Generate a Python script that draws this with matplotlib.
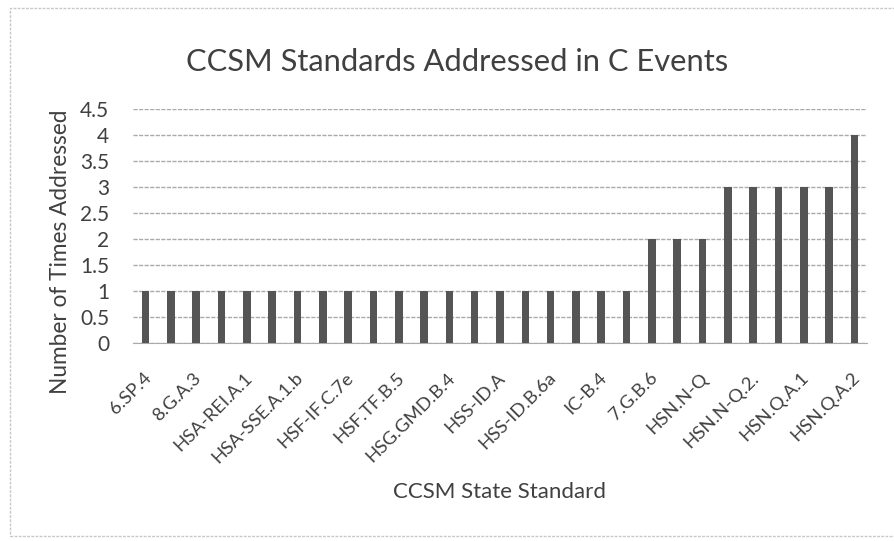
import matplotlib
matplotlib.use("Agg")
import matplotlib.pyplot as plt
from matplotlib.patches import Rectangle

# ---- data ----
values = [1, 1, 1, 1, 1, 1, 1, 1, 1, 1,
          1, 1, 1, 1, 1, 1, 1, 1, 1, 1,
          2, 2, 2,
          3, 3, 3, 3, 3,
          4]
tick_labels = ["6.SP.4", "8.G.A.3", "HSA-REI.A.1", "HSA-SSE.A.1.b", "HSF-IF.C.7e",
               "HSF.TF.B.5", "HSG.GMD.B.4", "HSS-ID.A", "HSS-ID.B.6a", "IC-B.4",
               "7.G.B.6", "HSN.N-Q", "HSN.N-Q.2.", "HSN.Q.A.1", "HSN.Q.A.2"]
y_ticks = [0, 0.5, 1, 1.5, 2, 2.5, 3, 3.5, 4, 4.5]
y_tick_labels = ["0", "0.5", "1", "1.5", "2", "2.5", "3", "3.5", "4", "4.5"]
title = "CCSM Standards Addressed in C Events"
xlabel = "CCSM State Standard"
ylabel = "Number of Times Addressed"

plt.rcParams['font.family'] = ['Lato', 'DejaVu Sans']
text_color = "#404040"

W, H = 895, 541
fig = plt.figure(figsize=(W / 100, H / 100), dpi=100)
fig.patch.set_facecolor("white")

# chart border (scanned box)
fig.add_artist(Rectangle((10 / W, 1 - 536 / H), 1.2, (536 - 8) / H,
                         transform=fig.transFigure, fill=False,
                         edgecolor="#c8c8c8", linewidth=1.0, linestyle=(0, (2, 1))))

ax = fig.add_axes([133 / W, 1 - 342.7 / H, (867 - 133) / W, (342.7 - 108.7) / H])
x = list(range(len(values)))
ax.bar(x, values, width=0.3, color="#555555", zorder=3)
ax.set_xlim(-0.5, len(values) - 0.5)
ax.set_ylim(0, 4.5)
ax.set_yticks(y_ticks)
ax.set_yticklabels(y_tick_labels, fontsize=15, color=text_color)
ax.yaxis.grid(True, color="#aaaaaa", linewidth=1.0, linestyle=(0, (3, 1)), zorder=0)
ax.set_axisbelow(True)
for s in ["top", "right", "left"]:
    ax.spines[s].set_visible(False)
ax.spines["bottom"].set_color("#aaaaaa")
ax.tick_params(axis="y", length=0, pad=17)
ax.set_xticks(x[::2])
ax.set_xticklabels([])
ax.tick_params(axis="x", length=0)
for pos, lbl in zip(x[::2], tick_labels):
    ax.annotate(lbl, xy=(pos, 0), xycoords=("data", "axes fraction"),
                xytext=(-3, -27), textcoords="offset pixels",
                rotation=45, ha="right", va="top", rotation_mode="anchor",
                fontsize=13.3, color=text_color, annotation_clip=False)

fig.text(457 / W, 1 - 62 / H, title, ha="center", va="center", fontsize=22.2, color=text_color)
fig.text(500 / W, 1 - 492 / H, xlabel, ha="center", va="center", fontsize=16, color=text_color)
fig.text(61 / W, 1 - 252 / H, ylabel, ha="center", va="center", rotation=90,
         fontsize=16.3, color=text_color)

fig.savefig("out.png", dpi=100, facecolor="white")
